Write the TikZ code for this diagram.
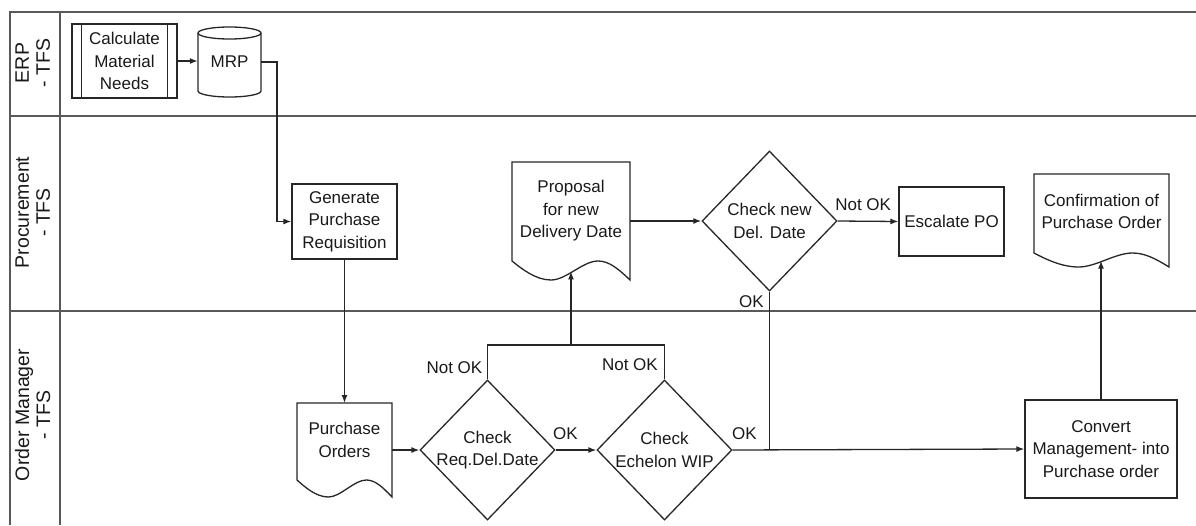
\documentclass[tikz,border=0pt]{standalone}
\usepackage{fontspec}
\setmainfont{Liberation Sans}
\usetikzlibrary{arrows.meta,shapes.geometric,calc}

\tikzset{
  line/.style={draw=black!85, line width=1.3pt},
  lane/.style={draw=black!65, line width=1.5pt},
  txt/.style={font=\fontsize{17}{22.5}\selectfont, text=black!90, align=center},
  box/.style={txt, line, rectangle, inner sep=0pt},
  decision/.style={txt, line, diamond, inner sep=-1.5pt, minimum width=135pt, minimum height=140pt},
  docnode/.style={txt, inner sep=0pt},
  flow/.style={line, -{Latex[length=8pt,width=6pt]}},
  lbl/.style={txt, inner sep=0pt},
  lanetitle/.style={txt, rotate=90, font=\fontsize{19.5}{21}\selectfont},
}

% Document symbol round a text node:
% #1 node, #2 half width, #3 top above centre, #4 lowest point below centre, #5 wave height
\newcommand\docframe[5]{%
  \draw[line] ([shift={(-#2,#3)}]#1.center) -- ([shift={(#2,#3)}]#1.center)
    -- ([shift={(#2,-#4)}]#1.center)
    .. controls ([shift={(0.8*#2,-#4+0.6*#5)}]#1.center) and ([shift={(0.64*#2,-#4+#5)}]#1.center)
    .. ([shift={(0.46*#2,-#4+#5)}]#1.center)
    .. controls ([shift={(0.2*#2,-#4+#5)}]#1.center) and ([shift={(-0.08*#2,-#4)}]#1.center)
    .. ([shift={(-0.34*#2,-#4)}]#1.center)
    .. controls ([shift={(-0.6*#2,-#4)}]#1.center) and ([shift={(-0.84*#2,-#4+0.6*#5)}]#1.center)
    .. ([shift={(-#2,-#4+#5)}]#1.center) -- cycle;
  \coordinate (#1-top) at ([shift={(0,#3)}]#1.center);
  \coordinate (#1-in) at ([shift={(0,-#4+0.45*#5)}]#1.center);
  \coordinate (#1-r) at ([shift={(#2,0)}]#1.center);
}

\begin{document}
\begin{tikzpicture}[x=1pt,y=1pt]
\useasboundingbox (0,0) rectangle (1196,-525);

% ---- swimlanes ----
\draw[lane] (10,-525) -- (10,-12) -- (1196,-12);
\draw[lane] (60,-12) -- (60,-525);
\draw[lane] (10,-116) -- (1196,-116);
\draw[lane] (10,-311) -- (1196,-311);

\node[lanetitle] (laneerp)  at (32.7,-63)    {ERP\\- TFS};
\node[lanetitle] (laneproc) at (32.7,-212.5) {Procurement\\- TFS};
\node[lanetitle] (laneom)   at (32.7,-415)   {Order Manager\\- TFS};

% ---- ERP lane ----
\node[box, minimum width=105pt, minimum height=74pt] (calc) at (124.5,-61) {Calculate\\Material\\Needs};
\draw[line] ([xshift=10pt]calc.north west) -- ([xshift=10pt]calc.south west);
\draw[line] ([xshift=-10pt]calc.north east) -- ([xshift=-10pt]calc.south east);

\node[txt, minimum width=63pt, minimum height=70pt, inner sep=0pt] (mrp) at (229.5,-62) {\raisebox{-6pt}{MRP}};
\draw[line] ([yshift=29pt]mrp.center) ellipse [x radius=31.5, y radius=6];
\draw[line] ([shift={(-31.5,29)}]mrp.center) -- ([shift={(-31.5,-29)}]mrp.center)
  arc[start angle=180, end angle=360, x radius=31.5, y radius=6]
  -- ([shift={(31.5,29)}]mrp.center);

% ---- Procurement lane ----
\node[box, minimum width=105pt, minimum height=75pt] (gpr) at (344.5,-221.5) {Generate\\Purchase\\Requisition};

\node[docnode] (prop) at (571,-211) {Proposal\\for new\\Delivery Date};
\docframe{prop}{59}{49}{69}{19}

\node[decision] (chk3) at (769.5,-221) {Check new\\Del. Date};

\node[box, minimum width=105pt, minimum height=69pt] (esc) at (951.5,-221.5) {Escalate PO};

\node[docnode] (conf) at (1101.5,-211.5) {Confirmation of\\Purchase Order};
\docframe{conf}{67.5}{37.5}{55.5}{14}

% ---- Order Manager lane ----
\node[docnode] (po) at (344.5,-440) {Purchase\\Orders};
\docframe{po}{47.5}{37}{57}{17}

\node[decision] (chk1) at (487.5,-450) {Check\\Req.Del.Date};
\node[decision] (chk2) at (664.5,-450) {Check\\Echelon WIP};

\node[box, minimum width=152pt, minimum height=98pt] (conv) at (1101,-449) {Convert\\Management- into\\Purchase order};

% ---- connectors ----
\draw[flow] (calc.east) -- (calc.east -| mrp.west);
\coordinate (mrpout) at (277,-62);
\draw[flow] (mrp.east) -- (mrpout) |- (gpr.west);
\draw[flow] (gpr.south) -- (po-top);
\draw[flow] (chk1.west -| po-r) -- (chk1.west);
\draw[flow] (chk1.east) -- node[lbl, pos=0.24, above=10pt] (okreq) {OK} (chk2.west);

\coordinate (merge) at (prop-in |- 0,-345);
\draw[line] (chk1.north) |- (merge) -| (chk2.north);
\draw[flow] (merge) -- (prop-in);
\node[lbl, anchor=south east] (notok1) at ([shift={(-5,5)}]chk1.north) {Not OK};
\node[lbl, anchor=south east] (notok2) at ([shift={(-6.5,8)}]chk2.north) {Not OK};

\draw[flow] (chk2.east) -- node[lbl, pos=0.04, above=10pt] (okwip) {OK} (conv.west);

\draw[flow] (chk3.west -| prop-r) -- (chk3.west);
\draw[flow] (chk3.east) -- node[lbl, pos=0.42, above=10pt] (notok3) {Not OK} (esc.west);
\draw[line] (chk3.south) -- (chk3.south |- conv.west);
\node[lbl, anchor=north east] (okdate) at ([shift={(-5.5,-4)}]chk3.south) {OK};

\draw[flow] (conv.north) -- (conv.north |- conf-in);
\end{tikzpicture}
\end{document}
